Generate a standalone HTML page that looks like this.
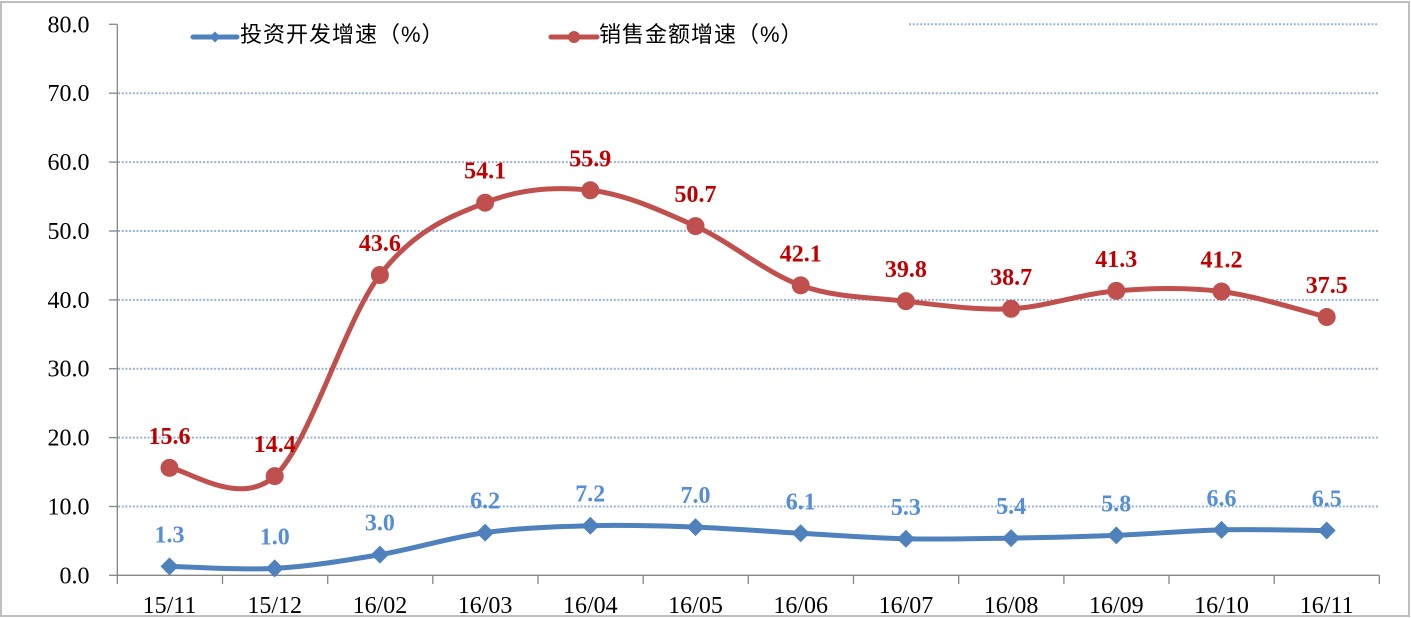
<!DOCTYPE html>
<html>
<head>
<meta charset="utf-8">
<style>
  html, body { margin: 0; padding: 0; background: #ffffff; }
  svg { display: block; }
  .ax { font-family: "Liberation Serif", serif; font-size: 24px; fill: #000; }
  .lg { font-family: "Liberation Sans", "Noto Sans CJK SC", sans-serif; font-size: 22px; fill: #000; letter-spacing: 1px; }
  .rl { font-family: "Liberation Serif", serif; font-size: 24px; font-weight: bold; fill: #C00000; }
  .bl { font-family: "Liberation Serif", serif; font-size: 24px; font-weight: bold; fill: #558ED5; }
</style>
</head>
<body>
<svg width="1411" height="618" viewBox="0 0 1411 618" xmlns="http://www.w3.org/2000/svg">
  <rect x="0" y="0" width="1411" height="618" fill="#ffffff"/>
  <rect x="1" y="2" width="1408" height="614" fill="none" stroke="#BFBFBF" stroke-width="2"/>

  <!-- gridlines -->
  <g stroke="#95B3D7" stroke-width="2" stroke-dasharray="2 1.7" fill="none">
    <line x1="909" y1="24.3" x2="1379" y2="24.3"/>
    <line x1="118" y1="93.2" x2="1379" y2="93.2"/>
    <line x1="118" y1="162.1" x2="1379" y2="162.1"/>
    <line x1="118" y1="231" x2="1379" y2="231"/>
    <line x1="118" y1="299.9" x2="1379" y2="299.9"/>
    <line x1="118" y1="368.7" x2="1379" y2="368.7"/>
    <line x1="118" y1="437.6" x2="1379" y2="437.6"/>
    <line x1="118" y1="506.5" x2="1379" y2="506.5"/>
  </g>

  <!-- axes -->
  <g stroke="#868686" stroke-width="1.3" fill="none">
    <line x1="117.3" y1="24.3" x2="117.3" y2="575.3"/>
    <line x1="109" y1="24.3" x2="117.3" y2="24.3"/>
    <line x1="109" y1="93.2" x2="117.3" y2="93.2"/>
    <line x1="109" y1="162.1" x2="117.3" y2="162.1"/>
    <line x1="109" y1="231" x2="117.3" y2="231"/>
    <line x1="109" y1="299.9" x2="117.3" y2="299.9"/>
    <line x1="109" y1="368.7" x2="117.3" y2="368.7"/>
    <line x1="109" y1="437.6" x2="117.3" y2="437.6"/>
    <line x1="109" y1="506.5" x2="117.3" y2="506.5"/>
    <line x1="109" y1="575.3" x2="117.3" y2="575.3"/>
    <line x1="117.3" y1="575.3" x2="1379.3" y2="575.3"/>
    <line x1="117.3" y1="575.3" x2="117.3" y2="584"/>
    <line x1="222.5" y1="575.3" x2="222.5" y2="584"/>
    <line x1="327.7" y1="575.3" x2="327.7" y2="584"/>
    <line x1="432.8" y1="575.3" x2="432.8" y2="584"/>
    <line x1="538" y1="575.3" x2="538" y2="584"/>
    <line x1="643.2" y1="575.3" x2="643.2" y2="584"/>
    <line x1="748.3" y1="575.3" x2="748.3" y2="584"/>
    <line x1="853.5" y1="575.3" x2="853.5" y2="584"/>
    <line x1="958.7" y1="575.3" x2="958.7" y2="584"/>
    <line x1="1063.9" y1="575.3" x2="1063.9" y2="584"/>
    <line x1="1169" y1="575.3" x2="1169" y2="584"/>
    <line x1="1274.2" y1="575.3" x2="1274.2" y2="584"/>
    <line x1="1379.3" y1="575.3" x2="1379.3" y2="584"/>
  </g>

  <!-- y labels -->
  <g class="ax" text-anchor="end">
    <text x="89.5" y="32.3">80.0</text>
    <text x="89.5" y="101.2">70.0</text>
    <text x="89.5" y="170.1">60.0</text>
    <text x="89.5" y="239">50.0</text>
    <text x="89.5" y="307.9">40.0</text>
    <text x="89.5" y="376.7">30.0</text>
    <text x="89.5" y="445.6">20.0</text>
    <text x="89.5" y="514.5">10.0</text>
    <text x="89.5" y="583.3">0.0</text>
  </g>

  <!-- x labels -->
  <g class="ax" text-anchor="middle">
    <text x="169.5" y="613">15/11</text>
    <text x="274.7" y="613">15/12</text>
    <text x="379.9" y="613">16/02</text>
    <text x="485.1" y="613">16/03</text>
    <text x="590.3" y="613">16/04</text>
    <text x="695.5" y="613">16/05</text>
    <text x="800.7" y="613">16/06</text>
    <text x="905.9" y="613">16/07</text>
    <text x="1011.1" y="613">16/08</text>
    <text x="1116.3" y="613">16/09</text>
    <text x="1221.5" y="613">16/10</text>
    <text x="1326.7" y="613">16/11</text>
  </g>

  <!-- red series -->
  <path fill="none" stroke="#C0504D" stroke-width="5" stroke-linejoin="round" stroke-linecap="round"
    d="M169.5,467.86 C187.03,469.24 239.63,508.26 274.7,476.12
       C309.77,443.98 344.83,320.57 379.9,275.0
       C414.97,229.43 450.03,216.81 485.1,202.69
       C520.17,188.57 555.23,186.39 590.3,190.29
       C625.37,194.19 660.43,210.26 695.5,226.10
       C730.57,241.94 765.63,272.83 800.7,285.34
       C835.77,297.85 870.83,297.28 905.9,301.18
       C940.97,305.08 976.03,310.47 1011.1,308.75
       C1046.17,307.03 1081.23,293.72 1116.3,290.85
       C1151.37,287.98 1186.43,287.17 1221.5,291.53
       C1256.57,295.89 1309.17,312.77 1326.7,317.02"/>
  <g fill="#C0504D">
    <circle cx="169.5" cy="467.86" r="9"/>
    <circle cx="274.7" cy="476.12" r="9"/>
    <circle cx="379.9" cy="275.0" r="9"/>
    <circle cx="485.1" cy="202.69" r="9"/>
    <circle cx="590.3" cy="190.29" r="9"/>
    <circle cx="695.5" cy="226.10" r="9"/>
    <circle cx="800.7" cy="285.34" r="9"/>
    <circle cx="905.9" cy="301.18" r="9"/>
    <circle cx="1011.1" cy="308.75" r="9"/>
    <circle cx="1116.3" cy="290.85" r="9"/>
    <circle cx="1221.5" cy="291.53" r="9"/>
    <circle cx="1326.7" cy="317.02" r="9"/>
  </g>

  <!-- blue series -->
  <path fill="none" stroke="#4F81BD" stroke-width="5" stroke-linejoin="round" stroke-linecap="round"
    d="M169.5,566.35 C187.03,566.69 239.63,570.36 274.7,568.41
       C309.77,566.46 344.83,560.61 379.9,554.64
       C414.97,548.67 450.03,537.42 485.1,532.60
       C520.17,527.78 555.23,526.63 590.3,525.71
       C625.37,524.79 660.43,525.83 695.5,527.09
       C730.57,528.35 765.63,531.34 800.7,533.29
       C835.77,535.24 870.83,538.00 905.9,538.80
       C940.97,539.60 976.03,538.69 1011.1,538.11
       C1046.17,537.54 1081.23,536.73 1116.3,535.35
       C1151.37,533.97 1186.43,530.64 1221.5,529.84
       C1256.57,529.04 1309.17,530.42 1326.7,530.53"/>
  <g fill="#4F81BD">
    <polygon points="169.5,557.35 178.5,566.35 169.5,575.35 160.5,566.35"/>
    <polygon points="274.7,559.41 283.7,568.41 274.7,577.41 265.7,568.41"/>
    <polygon points="379.9,545.64 388.9,554.64 379.9,563.64 370.9,554.64"/>
    <polygon points="485.1,523.6 494.1,532.6 485.1,541.6 476.1,532.6"/>
    <polygon points="590.3,516.71 599.3,525.71 590.3,534.71 581.3,525.71"/>
    <polygon points="695.5,518.09 704.5,527.09 695.5,536.09 686.5,527.09"/>
    <polygon points="800.7,524.29 809.7,533.29 800.7,542.29 791.7,533.29"/>
    <polygon points="905.9,529.8 914.9,538.8 905.9,547.8 896.9,538.8"/>
    <polygon points="1011.1,529.11 1020.1,538.11 1011.1,547.11 1002.1,538.11"/>
    <polygon points="1116.3,526.35 1125.3,535.35 1116.3,544.35 1107.3,535.35"/>
    <polygon points="1221.5,520.84 1230.5,529.84 1221.5,538.84 1212.5,529.84"/>
    <polygon points="1326.7,521.53 1335.7,530.53 1326.7,539.53 1317.7,530.53"/>
  </g>

  <!-- red data labels -->
  <g class="rl" text-anchor="middle">
    <text x="169.5" y="443.9">15.6</text>
    <text x="274.7" y="452.1">14.4</text>
    <text x="379.9" y="251">43.6</text>
    <text x="485.1" y="178.7">54.1</text>
    <text x="590.3" y="166.3">55.9</text>
    <text x="695.5" y="202.1">50.7</text>
    <text x="800.7" y="261.3">42.1</text>
    <text x="905.9" y="277.2">39.8</text>
    <text x="1011.1" y="284.8">38.7</text>
    <text x="1116.3" y="266.9">41.3</text>
    <text x="1221.5" y="267.5">41.2</text>
    <text x="1326.7" y="293">37.5</text>
  </g>

  <!-- blue data labels -->
  <g class="bl" text-anchor="middle">
    <text x="169.5" y="542.4">1.3</text>
    <text x="274.7" y="544.4">1.0</text>
    <text x="379.9" y="530.6">3.0</text>
    <text x="485.1" y="508.6">6.2</text>
    <text x="590.3" y="501.7">7.2</text>
    <text x="695.5" y="503.1">7.0</text>
    <text x="800.7" y="509.3">6.1</text>
    <text x="905.9" y="514.8">5.3</text>
    <text x="1011.1" y="514.1">5.4</text>
    <text x="1116.3" y="511.4">5.8</text>
    <text x="1221.5" y="505.8">6.6</text>
    <text x="1326.7" y="506.5">6.5</text>
  </g>

  <!-- legend -->
  <line x1="193" y1="37" x2="237" y2="37" stroke="#4F81BD" stroke-width="5" stroke-linecap="round"/>
  <polygon points="215,31.5 220.5,37 215,42.5 209.5,37" fill="#4F81BD"/>
  <text class="lg" x="240" y="42">投资开发增速（%）</text>

  <line x1="551" y1="37" x2="597" y2="37" stroke="#C0504D" stroke-width="5" stroke-linecap="round"/>
  <circle cx="574" cy="37" r="6" fill="#C0504D"/>
  <text class="lg" x="599" y="42">销售金额增速（%）</text>
</svg>
</body>
</html>
